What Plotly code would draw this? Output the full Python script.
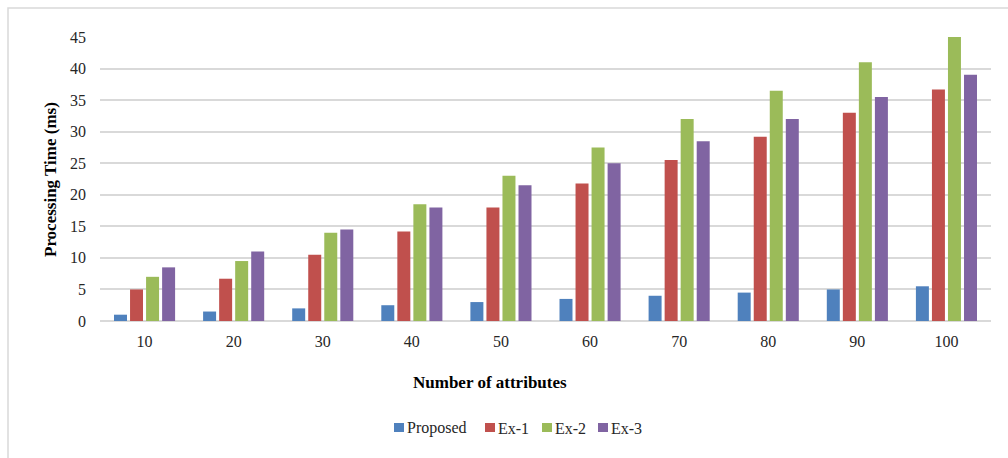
import plotly.graph_objects as go

# Number of attributes on the x axis
attributes = ["10", "20", "30", "40", "50", "60", "70", "80", "90", "100"]

# Processing time (ms) per method
proposed = [1, 1.5, 2, 2.5, 3, 3.5, 4, 4.5, 5, 5.5]
ex1 = [5, 6.7, 10.5, 14.2, 18, 21.8, 25.5, 29.2, 33, 36.7]
ex2 = [7, 9.5, 14, 18.5, 23, 27.5, 32, 36.5, 41, 45]
ex3 = [8.5, 11, 14.5, 18, 21.5, 25, 28.5, 32, 35.5, 39]

series_names = ["Proposed", "Ex-1", "Ex-2", "Ex-3"]
series_values = [proposed, ex1, ex2, ex3]
series_colors = ["#4F81BD", "#C0504D", "#9BBB59", "#8064A2"]

FONT = "Liberation Serif"
TEXT = "#262626"

# plot area in pixels (used to place the frame, titles and legend)
W, H = 1008, 458
L, R, T, B = 100, 17, 37, 137
PW, PH = W - L - R, H - T - B


def px_x(p):
    return (p - L) / PW


def px_y(p):
    return (H - B - p) / PH


fig = go.Figure()
for name, vals, color in zip(series_names, series_values, series_colors):
    fig.add_trace(go.Bar(
        x=attributes, y=vals, name=name, showlegend=False,
        marker=dict(color=color, line=dict(width=0)),
    ))

annotations = [
    dict(text="<b>Number of attributes</b>", xref="paper", yref="paper",
         x=px_x(490), y=px_y(382), xanchor="center", yanchor="middle",
         showarrow=False, font=dict(family=FONT, size=17, color="#000000")),
    dict(text="<b>Processing Time (ms)</b>", xref="paper", yref="paper",
         x=px_x(50), y=px_y(180), xanchor="center", yanchor="middle",
         textangle=-90, showarrow=False,
         font=dict(family=FONT, size=17, color="#000000")),
]

shapes = [
    dict(type="rect", xref="paper", yref="paper",
         x0=px_x(8), x1=px_x(1030), y0=px_y(480), y1=px_y(8),
         line=dict(color="#D9D9D9", width=1.5), fillcolor="rgba(0,0,0,0)",
         layer="below"),
]

# legend: colour swatch followed by label
legend_left = [394, 485, 542, 598]
for name, color, left in zip(series_names, series_colors, legend_left):
    shapes.append(dict(
        type="rect", xref="paper", yref="paper",
        x0=px_x(left), x1=px_x(left + 10), y0=px_y(432), y1=px_y(423),
        line=dict(width=0), fillcolor=color,
    ))
    annotations.append(dict(
        text=name, xref="paper", yref="paper",
        x=px_x(left + 11), y=px_y(428), xanchor="left", yanchor="middle",
        showarrow=False, font=dict(family=FONT, size=16, color=TEXT),
    ))

fig.update_layout(
    width=W, height=H,
    margin=dict(l=L, r=R, t=T, b=B),
    paper_bgcolor="white", plot_bgcolor="white",
    barmode="group", bargap=0.28, bargroupgap=0.19,
    font=dict(family=FONT, size=16, color=TEXT),
    showlegend=False,
    xaxis=dict(
        showgrid=False, showline=False, zeroline=False,
        ticks="", ticklabelstandoff=9,
        tickfont=dict(family=FONT, size=16, color=TEXT),
    ),
    yaxis=dict(
        range=[0, 45], dtick=5, showgrid=True, gridcolor="#D9D9D9", gridwidth=1.5,
        zeroline=True, zerolinecolor="#D9D9D9", zerolinewidth=1.5,
        showline=False, ticks="", ticklabelstandoff=13,
        tickfont=dict(family=FONT, size=16, color=TEXT),
    ),
    annotations=annotations,
    shapes=shapes,
)

fig.write_html("out.html")
